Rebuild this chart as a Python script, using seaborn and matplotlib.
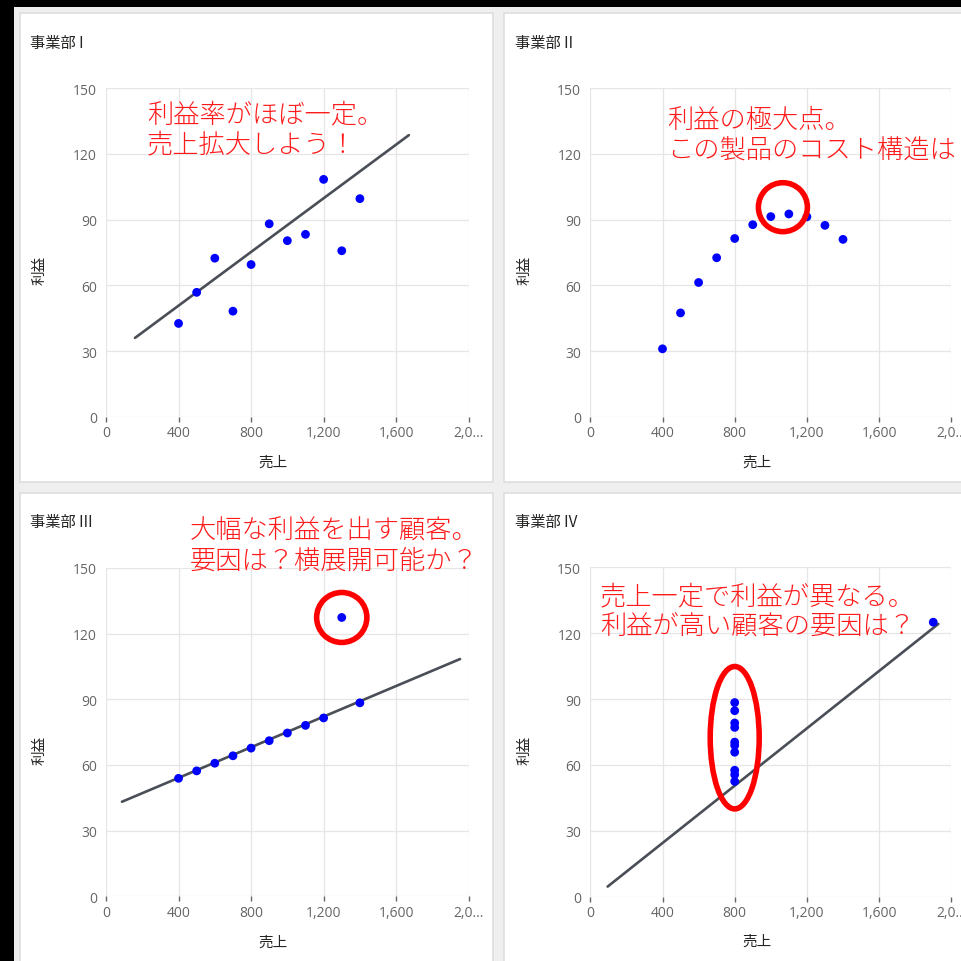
import matplotlib
matplotlib.use("Agg")
import matplotlib.pyplot as plt
from matplotlib.patches import Rectangle, Ellipse
import seaborn as sns
import pandas as pd

# ---- data: sales vs. profit for four business units ----
sales_1 = [1000, 800, 1300, 900, 1100, 1400, 600, 400, 1200, 700, 500]
profit_1 = [80.4, 69.5, 75.8, 88.1, 83.3, 99.6, 72.4, 42.6, 108.4, 48.2, 56.8]

sales_2 = [1000, 800, 1300, 900, 1100, 1400, 600, 400, 1200, 700, 500]
profit_2 = [91.4, 81.4, 87.4, 87.7, 92.6, 81.0, 61.3, 31.0, 91.3, 72.6, 47.4]

sales_3 = [1000, 800, 1300, 900, 1100, 1400, 600, 400, 1200, 700, 500]
profit_3 = [74.6, 67.7, 127.4, 71.1, 78.1, 88.4, 60.8, 53.9, 81.5, 64.2, 57.3]

sales_4 = [800, 800, 800, 800, 800, 800, 800, 1900, 800, 800, 800]
profit_4 = [65.8, 57.6, 77.1, 88.4, 84.7, 70.4, 52.5, 125.0, 55.6, 79.1, 68.9]

# trend line end points per unit (unit II has none)
trend_x_1 = [160, 1670]
trend_y_1 = [36.0, 128.6]
trend_x_3 = [88, 1952]
trend_y_3 = [43.2, 108.4]
trend_x_4 = [96, 1928]
trend_y_4 = [4.6, 124.2]

titles = ["事業部 I", "事業部 II", "事業部 III", "事業部 IV"]
x_ticks = [0, 400, 800, 1200, 1600, 2000]
x_tick_labels = ["0", "400", "800", "1,200", "1,600", "2,0..."]
y_ticks = [0, 30, 60, 90, 120, 150]
x_label = "売上"
y_label = "利益"

notes = [
    "利益率がほぼ一定。\n売上拡大しよう！",
    "利益の極大点。\nこの製品のコスト構造は",
    "大幅な利益を出す顧客。\n要因は？横展開可能か？",
    "売上一定で利益が異なる。\n利益が高い顧客の要因は？",
]

# ---- styling ----
sns.set_theme(style="white")
plt.rcParams["font.family"] = ["Noto Sans CJK JP", "DejaVu Sans"]
tick_family = ["Open Sans", "DejaVu Sans"]

W, H = 961, 962
fig = plt.figure(figsize=(W / 100, H / 100), dpi=100)
fig.patch.set_facecolor("black")


def fx(px):
    return px / W


def fy(py):
    return 1 - py / H


def rect(x0, y0, x1, y1, fc, ec="none", lw=0):
    r = Rectangle((fx(x0), fy(y1)), fx(x1) - fx(x0), fy(y0) - fy(y1),
                  transform=fig.transFigure, facecolor=fc, edgecolor=ec,
                  linewidth=lw, zorder=-10)
    fig.add_artist(r)


# page background and cards
rect(14, 8, W + 2, H + 2, "#efefef")
card_boxes = [(20, 14, 493, 483), (504, 14, W + 5, 483),
              (20, 494, 493, H + 5), (504, 494, W + 5, H + 5)]
for b in card_boxes:
    rect(*b, fc="white", ec="#dedede", lw=1.2)

# axes placement: (left px, right px, top px, bottom px)
axes_boxes = [(106, 468.7, 89.3, 417.7), (590.3, 951.3, 89.3, 417.7),
              (106, 468.7, 569.0, 897.3), (590.3, 951.3, 568.3, 897.7)]

data = [
    (sales_1, profit_1, trend_x_1, trend_y_1),
    (sales_2, profit_2, None, None),
    (sales_3, profit_3, trend_x_3, trend_y_3),
    (sales_4, profit_4, trend_x_4, trend_y_4),
]

title_pos = [(30, 43), (515, 43), (30, 522), (515, 522)]
xlabel_pos = [(273, 463), (757, 463), (273, 943), (757, 942)]
ylabel_pos = [(40, 270), (525, 270), (40, 750), (525, 750)]
note_pos = [(147, 102), (667, 107), (190, 518), (600, 584)]

axes = []
for i, (l, r, t, b) in enumerate(axes_boxes):
    ax = fig.add_axes([fx(l), fy(b), fx(r) - fx(l), fy(t) - fy(b)])
    ax.set_facecolor("none")
    sx, sy, tx, ty = data[i]
    df = pd.DataFrame({"sales": sx, "profit": sy})
    if tx is not None:
        tl = pd.DataFrame({"sales": tx, "profit": ty})
        sns.lineplot(data=tl, x="sales", y="profit", ax=ax, color="#4a4e57",
                     linewidth=1.9, zorder=3, estimator=None, sort=False)
    sns.scatterplot(data=df, x="sales", y="profit", ax=ax, color="#0000ff",
                    s=40, edgecolor="none", zorder=4)
    ax.set_xlim(0, 2000)
    ax.set_ylim(0, 150)
    ax.set_xticks(x_ticks)
    ax.set_xticklabels(x_tick_labels)
    ax.set_yticks(y_ticks)
    ax.set_xlabel("")
    ax.set_ylabel("")
    ax.grid(True, color="#e6e6e6", linewidth=0.9)
    ax.set_axisbelow(True)
    for s in ax.spines.values():
        s.set_visible(False)
    ax.tick_params(axis="x", length=3.5, width=1, color="#666666", pad=2.5,
                   labelsize=10, labelcolor="#666666", direction="out",
                   bottom=True)
    ax.tick_params(axis="y", length=0, pad=6.5, labelsize=10,
                   labelcolor="#666666", left=True)
    for lab in ax.get_xticklabels() + ax.get_yticklabels():
        lab.set_family(tick_family)
    axes.append(ax)

    fig.text(fx(title_pos[i][0]), fy(title_pos[i][1]), titles[i],
             fontsize=11, color="#252423", ha="left", va="center")
    fig.text(fx(xlabel_pos[i][0]), fy(xlabel_pos[i][1]), x_label,
             fontsize=10.5, color="#252423", ha="center", va="center")
    fig.text(fx(ylabel_pos[i][0]), fy(ylabel_pos[i][1]), y_label,
             fontsize=10.5, color="#252423", ha="center", va="center",
             rotation=90)
    fig.text(fx(note_pos[i][0]), fy(note_pos[i][1]), notes[i],
             fontsize=18.9, fontweight="light", color="#ff1a1a",
             ha="left", va="top", linespacing=1.18, zorder=6)

# red highlight rings, sized in pixels and placed in data space
px_x = 361.0 / 2000
px_y = 328.5 / 150
rings = [(1, 1067, 95.7, 24.5, 24.5), (2, 1300, 127.4, 25, 25),
         (3, 800, 72.4, 24.5, 71)]
for idx, cx, cy, rx, ry in rings:
    e = Ellipse((cx, cy), 2 * rx / px_x, 2 * ry / px_y, fill=False,
                edgecolor="#ff0000", linewidth=4.0, clip_on=False, zorder=5)
    axes[idx].add_patch(e)

fig.savefig("out.png", dpi=100, facecolor=fig.get_facecolor())
